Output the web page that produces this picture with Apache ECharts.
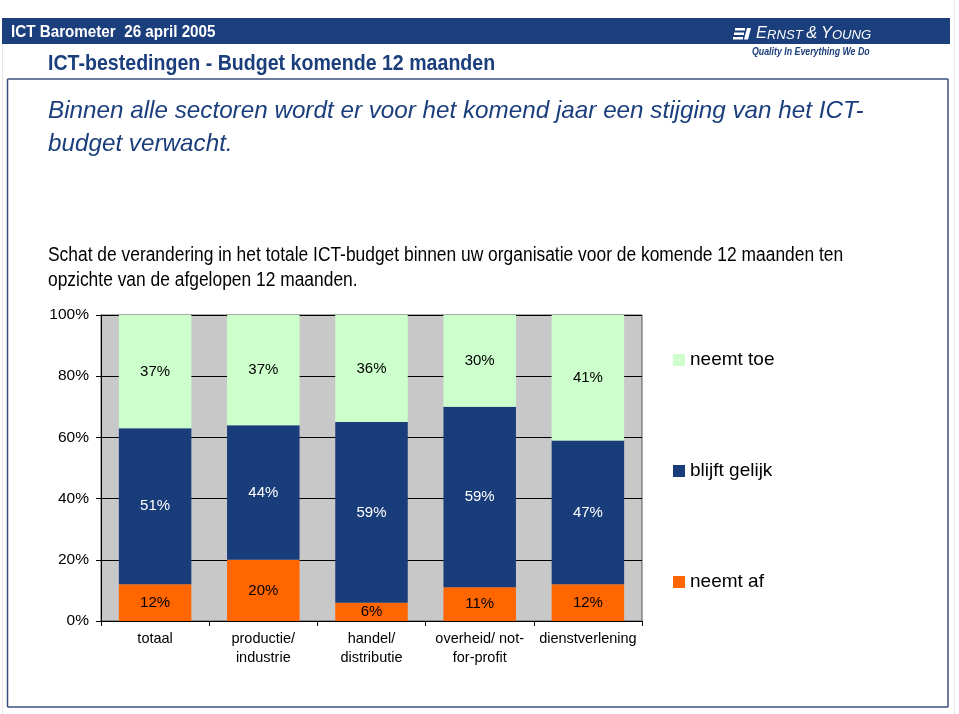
<!DOCTYPE html>
<html><head><meta charset="utf-8">
<script src="https://cdn.jsdelivr.net/npm/echarts@6/dist/echarts.min.js"></script>
<style>html,body{margin:0;padding:0;background:#fff}#c{width:959px;height:714px}</style>
</head><body><div id="c"></div>
<script>
var categories = ['totaal', 'productie/\nindustrie', 'handel/\ndistributie', 'overheid/ not-\nfor-profit', 'dienstverlening'];
var neemtAf = [12, 20, 6, 11, 12];
var blijftGelijk = [51, 44, 59, 59, 47];
var neemtToe = [37, 37, 36, 30, 41];
var yTicks = [0, 20, 40, 60, 80, 100];

var NAVY = '#1b3e7c';
var SANS = '"Liberation Sans", Arial, sans-serif';
var chart = echarts.init(document.getElementById('c'), null, {renderer: 'canvas'});
var lbl = function (color) {
  return {show: true, position: 'inside', formatter: '{c}%', fontSize: 15, color: color, fontFamily: SANS};
};
chart.setOption({
  backgroundColor: '#ffffff',
  animation: false,
  graphic: [
    {type: 'line', shape: {x1: 954.5, y1: 0, x2: 954.5, y2: 714}, style: {stroke: '#e2e2e2', lineWidth: 1}},
    {type: 'line', shape: {x1: 2.5, y1: 44, x2: 2.5, y2: 714}, style: {stroke: '#e6e6e6', lineWidth: 1}},
    {type: 'rect', shape: {x: 2, y: 18, width: 948, height: 26}, style: {fill: NAVY}},
    {type: 'text', x: 11, y: 25, scaleX: 0.95, style: {text: 'ICT Barometer  26 april 2005', fill: '#fff', font: 'bold 16px ' + SANS}},
    {type: 'rect', shape: {x: 735, y: 28, width: 10, height: 2.5}, style: {fill: '#fff'}},
    {type: 'rect', shape: {x: 734, y: 32.5, width: 10, height: 2.5}, style: {fill: '#fff'}},
    {type: 'rect', shape: {x: 733, y: 37, width: 10, height: 2.5}, style: {fill: '#fff'}},
    {type: 'polygon', shape: {points: [[747, 28], [751, 28], [748, 39.5], [744, 39.5]]}, style: {fill: '#fff'}},
    {type: 'text', x: 756, y: 24, scaleX: 0.97, style: {
      text: '{b|E}{s|RNST }{b|&}{s| }{b|Y}{s|OUNG}', fill: '#fff',
      rich: {
        b: {font: 'italic 17px ' + SANS, fill: '#fff', lineHeight: 18, verticalAlign: 'bottom'},
        s: {font: 'italic 13.5px ' + SANS, fill: '#fff', lineHeight: 18, verticalAlign: 'bottom', padding: [0, 0, 0, 0]}
      }
    }},
    {type: 'text', x: 752, y: 46, scaleX: 0.8, style: {text: 'Quality In Everything We Do', fill: NAVY, font: 'italic bold 11px ' + SANS}},
    {type: 'text', x: 48, y: 53, scaleX: 0.89, style: {text: 'ICT-bestedingen - Budget komende 12 maanden', fill: NAVY, font: 'bold 22px ' + SANS}},
    {type: 'line', shape: {x1: 7.5, y1: 79, x2: 948, y2: 79}, style: {stroke: '#3b4f7d', lineWidth: 1.5}},
    {type: 'line', shape: {x1: 7.5, y1: 79, x2: 7.5, y2: 707}, style: {stroke: '#3b4f7d', lineWidth: 1.5}},
    {type: 'line', shape: {x1: 948, y1: 79, x2: 948, y2: 707}, style: {stroke: '#3b4f7d', lineWidth: 1.5}},
    {type: 'line', shape: {x1: 7.5, y1: 707, x2: 948, y2: 707}, style: {stroke: '#3b4f7d', lineWidth: 1.5}},
    {type: 'text', x: 48, y: 95, scaleX: 1.01, style: {text: 'Binnen alle sectoren wordt er voor het komend jaar een stijging van het ICT-\nbudget verwacht.', fill: NAVY, lineHeight: 33, font: 'italic 24px ' + SANS}},
    {type: 'text', x: 48, y: 243, scaleX: 0.87, style: {text: 'Schat de verandering in het totale ICT-budget binnen uw organisatie voor de komende 12 maanden ten\nopzichte van de afgelopen 12 maanden.', fill: '#000', lineHeight: 25, font: '20px ' + SANS}}
  ],
  legend: {
    orient: 'vertical', left: 673, top: 350, padding: 0,
    data: ['neemt toe', 'blijft gelijk', 'neemt af'],
    itemWidth: 12, itemHeight: 12, itemGap: 91, icon: 'rect',
    textStyle: {fontSize: 19, color: '#000', lineHeight: 20, fontFamily: SANS},
    selectedMode: false
  },
  grid: {left: 101, right: 317, top: 315, bottom: 93, show: true, backgroundColor: '#c8c8c8', borderColor: '#555', borderWidth: 1},
  xAxis: {
    type: 'category', data: categories,
    axisLine: {lineStyle: {color: '#000', width: 1}},
    axisTick: {show: true, length: 5, lineStyle: {color: '#000'}},
    axisLabel: {fontSize: 14.5, color: '#000', lineHeight: 19, margin: 8, interval: 0, fontFamily: SANS}
  },
  yAxis: {
    type: 'value', min: 0, max: 100, interval: 20,
    axisLine: {show: true, lineStyle: {color: '#000'}},
    axisTick: {show: true, length: 5, lineStyle: {color: '#000'}},
    splitLine: {lineStyle: {color: '#000', width: 1}},
    axisLabel: {formatter: function (v) { return yTicks.indexOf(v) >= 0 ? v + '%' : ''; }, fontSize: 15.5, color: '#000', margin: 12, fontFamily: SANS}
  },
  series: [
    {name: 'neemt af', type: 'bar', stack: 's', data: neemtAf, barCategoryGap: '33%', itemStyle: {color: '#ff6600'}, label: lbl('#000')},
    {name: 'blijft gelijk', type: 'bar', stack: 's', data: blijftGelijk, itemStyle: {color: '#193c7b'}, label: lbl('#fff')},
    {name: 'neemt toe', type: 'bar', stack: 's', data: neemtToe, itemStyle: {color: '#ccffcc'}, label: lbl('#000')}
  ]
});
</script></body></html>
